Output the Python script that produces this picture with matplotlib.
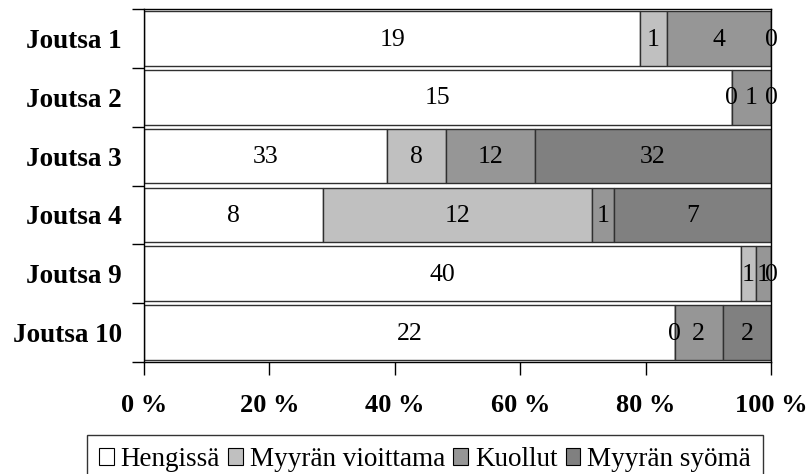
import matplotlib
matplotlib.use("Agg")
import matplotlib.pyplot as plt
import numpy as np

plt.rcParams['font.family'] = ['Liberation Serif', 'DejaVu Serif']

sites = ["Joutsa 1", "Joutsa 2", "Joutsa 3", "Joutsa 4", "Joutsa 9", "Joutsa 10"]
series_names = ["Hengissä", "Myyrän vioittama", "Kuollut", "Myyrän syömä"]
hengissa = [19, 15, 33, 8, 40, 22]
vioittama = [1, 0, 8, 12, 1, 0]
kuollut = [4, 1, 12, 1, 1, 2]
syoma = [0, 0, 32, 7, 0, 2]
colors = ["#FFFFFF", "#C0C0C0", "#969696", "#808080"]
xtick_labels = ["0 %", "20 %", "40 %", "60 %", "80 %", "100 %"]

counts = np.array([hengissa, vioittama, kuollut, syoma], dtype=float)
totals = counts.sum(axis=0)
shares = counts / totals * 100

fig = plt.figure(figsize=(8.08, 4.74), dpi=100)
ax = fig.add_axes([144 / 808, 1 - 362 / 474, (771 - 144) / 808, (362 - 9) / 474])

y = np.arange(len(sites))
left = np.zeros(len(sites))
for i, name in enumerate(series_names):
    ax.barh(y, shares[i], left=left, height=0.93, color=colors[i],
            edgecolor="#303030", linewidth=1.0, label=name)
    for j in range(len(sites)):
        cx = left[j] + shares[i, j] / 2
        ax.text(cx, y[j] + 0.02, f"{int(counts[i, j])}", ha="center", va="center",
                fontsize=18.5, color="black")
    left += shares[i]

ax.set_xlim(0, 100)
ax.set_ylim(len(sites) - 0.5, -0.5)
ax.set_yticks(y)
ax.set_yticklabels(sites, fontsize=19.5, fontweight="bold")
ax.set_yticks(np.arange(-0.5, len(sites), 1), minor=True)
ax.tick_params(axis="y", which="major", length=0, pad=16)
ax.tick_params(axis="y", which="minor", length=9, width=1, direction="out")
ax.set_xticks(np.linspace(0, 100, 6))
ax.set_xticklabels(xtick_labels, fontsize=19, fontweight="bold")
ax.tick_params(axis="x", which="major", length=9, width=1, direction="out", pad=14)
for s in ax.spines.values():
    s.set_linewidth(1.0)
    s.set_color("black")

leg = fig.legend(loc="upper center", bbox_to_anchor=(425 / 808, 1 - 435 / 474), ncol=4,
                 fontsize=19.5, frameon=True, fancybox=False, edgecolor="black",
                 handlelength=0.55, handleheight=0.55, handletextpad=0.25,
                 columnspacing=0.3, borderpad=0.45, borderaxespad=0)
leg.get_frame().set_linewidth(1.0)
for h in leg.legend_handles:
    h.set_edgecolor("black")
    h.set_linewidth(0.8)

fig.savefig("out.png", dpi=100)
